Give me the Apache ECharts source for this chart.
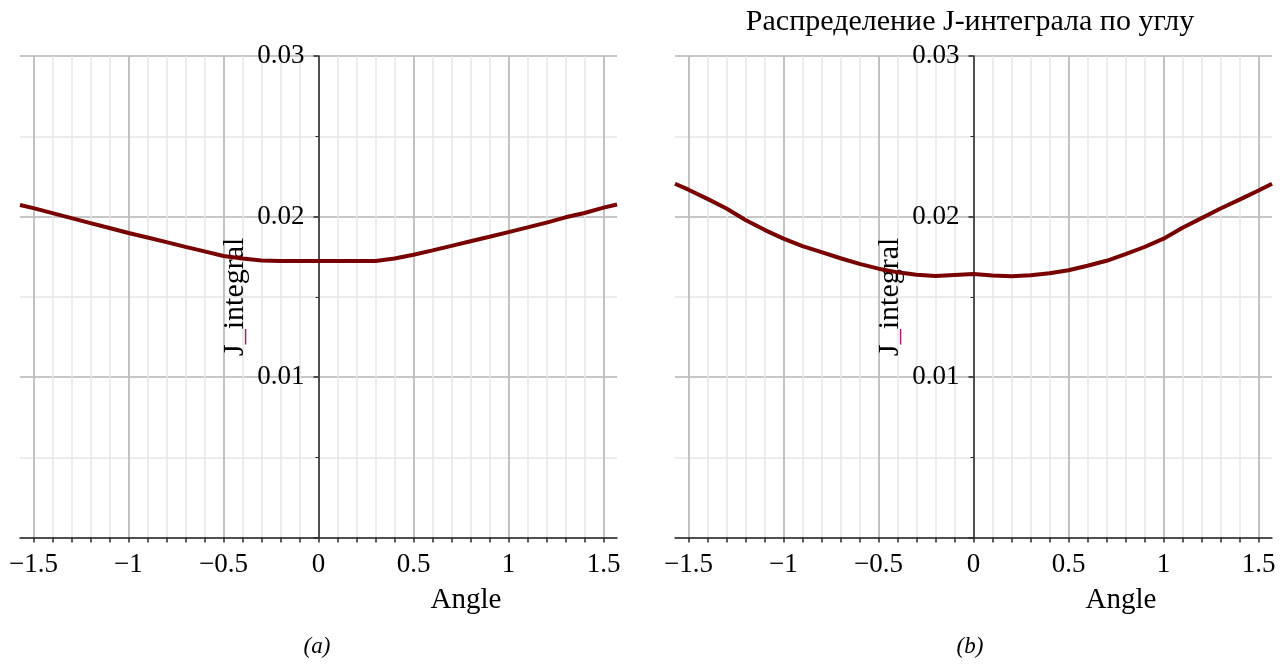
<!DOCTYPE html>
<html lang="ru">
<head>
    <meta charset="UTF-8" />
    <title>Распределение J-интеграла по углу</title>
    <script src="https://cdn.jsdelivr.net/npm/echarts@6.0.0/dist/echarts.min.js"></script>
    <style>
        body {
            margin: 0;
            background: #fff;
        }
        #chart {
            width: 1285px;
            height: 664px;
        }
    </style>
</head>
<body>
    <div id="chart"></div>

    <script>
        // angle in radians, -pi/2 .. pi/2
        const angles = [
            -1.5708, -1.5, -1.4, -1.3, -1.2, -1.1, -1.0, -0.9, -0.8, -0.7, -0.6,
            -0.5, -0.4, -0.3, -0.2, -0.1, 0, 0.1, 0.2, 0.3, 0.4, 0.5,
            0.6, 0.7, 0.8, 0.9, 1.0, 1.1, 1.2, 1.3, 1.4, 1.5, 1.5708
        ];
        // (a)
        const jIntegralA = [
            0.02072, 0.02052, 0.02021, 0.01990, 0.01959, 0.01928, 0.01897, 0.01869, 0.01840, 0.01811, 0.01783,
            0.01754, 0.01738, 0.01726, 0.01723, 0.01722, 0.01722, 0.01722, 0.01722, 0.01723, 0.01738, 0.01762,
            0.01789, 0.01817, 0.01846, 0.01874, 0.01903, 0.01932, 0.01962, 0.01995, 0.02022, 0.02055, 0.02075
        ];
        // (b)
        const jIntegralB = [
            0.02204, 0.02167, 0.02110, 0.02050, 0.01978, 0.01917, 0.01862, 0.01815, 0.01778, 0.01740, 0.01705,
            0.01675, 0.01652, 0.01637, 0.01630, 0.01636, 0.01642, 0.01632, 0.01628, 0.01634, 0.01647, 0.01665,
            0.01693, 0.01724, 0.01765, 0.01810, 0.01862, 0.01930, 0.01990, 0.02050, 0.02105, 0.02162, 0.02204
        ];

        const xRange = [-Math.PI / 2, Math.PI / 2];
        const xMajorTicks = [-1.5, -1, -0.5, 0, 0.5, 1, 1.5];
        const xMinorTicks = [
            -1.5, -1.4, -1.3, -1.2, -1.1, -1, -0.9, -0.8, -0.7, -0.6, -0.5, -0.4, -0.3, -0.2, -0.1,
            0, 0.1, 0.2, 0.3, 0.4, 0.5, 0.6, 0.7, 0.8, 0.9, 1, 1.1, 1.2, 1.3, 1.4, 1.5
        ];
        const yRange = [0, 0.03];
        const yStep = 0.01;

        const chartTitle = 'Распределение J-интеграла по углу';
        const xName = 'Angle';
        const yName = 'J{u|_}integral';
        const captions = ['(a)', '(b)'];

        const SERIF = '"Liberation Serif", "Times New Roman", serif';
        const AXIS_COLOR = '#2a2a2a';
        const CURVE_COLOR = '#780000';

        const PLOT_W = 597;
        const grids = [
            { left: 20, top: 56, width: PLOT_W, height: 481.5, outerBoundsMode: 'none', containLabel: false },
            { left: 675, top: 56, width: PLOT_W, height: 481.5, outerBoundsMode: 'none', containLabel: false }
        ];

        function fmtX(v) {
            if (v < 0) return '\u2212' + String(Math.abs(v));
            return String(v);
        }

        const xAxes = [];
        const yAxes = [];
        const series = [];
        [jIntegralA, jIntegralB].forEach((vals, i) => {
            // main axis: line, 0.1 ticks, labels on 0.5, light grid
            xAxes.push({
                gridIndex: i,
                type: 'value',
                min: xRange[0],
                max: xRange[1],
                axisLine: { onZero: true, lineStyle: { color: AXIS_COLOR, width: 1.5 } },
                axisTick: { customValues: xMinorTicks, length: 5, lineStyle: { color: AXIS_COLOR, width: 1.5 } },
                axisLabel: {
                    customValues: xMajorTicks,
                    formatter: fmtX,
                    margin: 14,
                    color: '#000',
                    fontFamily: SERIF,
                    fontSize: 27
                },
                splitLine: { show: true, lineStyle: { color: '#e6e6e6', width: 1.5 } }
            });
            // second axis just for the darker 0.5 grid lines
            xAxes.push({
                gridIndex: i,
                type: 'value',
                position: 'top',
                min: xRange[0],
                max: xRange[1],
                axisLine: { show: false },
                axisTick: { show: false, customValues: xMajorTicks },
                axisLabel: { show: false, customValues: xMajorTicks },
                splitLine: { show: true, lineStyle: { color: '#b4b4b4', width: 1.5 } }
            });
            // y axis sits at angle = 0: shift it into the middle of the grid
            yAxes.push({
                gridIndex: i,
                type: 'value',
                min: yRange[0],
                max: yRange[1],
                interval: yStep,
                offset: -PLOT_W / 2,
                name: yName,
                nameLocation: 'middle',
                nameRotate: 90,
                nameGap: 68,
                nameTextStyle: {
                    color: '#000',
                    fontFamily: SERIF,
                    fontSize: 30,
                    rich: {
                        u: { color: '#a0207a', fontFamily: SERIF, fontSize: 30 }
                    }
                },
                axisLine: { show: true, onZero: false, lineStyle: { color: AXIS_COLOR, width: 1.5 } },
                axisTick: { show: true, length: 5, lineStyle: { color: AXIS_COLOR, width: 1.5 } },
                minorTick: { show: true, splitNumber: 2, length: 3, lineStyle: { color: AXIS_COLOR } },
                axisLabel: {
                    formatter: v => (v === 0 ? '' : (+v.toFixed(2)).toString()),
                    margin: 14,
                    color: '#000',
                    fontFamily: SERIF,
                    fontSize: 27
                },
                splitLine: { show: true, lineStyle: { color: '#b4b4b4', width: 1.5 } },
                minorSplitLine: { show: true, lineStyle: { color: '#e6e6e6', width: 1.5 } }
            });
            series.push({
                type: 'line',
                xAxisIndex: i * 2,
                yAxisIndex: i,
                data: angles.map((a, k) => [a, vals[k]]),
                showSymbol: false,
                lineStyle: { color: CURVE_COLOR, width: 4 },
                z: 5
            });
        });

        const chart = echarts.init(document.getElementById('chart'));
        chart.setOption({
            animation: false,
            backgroundColor: '#fff',
            grid: grids,
            xAxis: xAxes,
            yAxis: yAxes,
            series: series,
            graphic: [
                { type: 'text', x: 970, y: 22, style: { text: chartTitle, font: '30px ' + SERIF, fill: '#000', align: 'center', verticalAlign: 'middle' } },
                { type: 'text', x: 466, y: 600, style: { text: xName, font: '29px ' + SERIF, fill: '#000', align: 'center', verticalAlign: 'middle' } },
                { type: 'text', x: 1121, y: 600, style: { text: xName, font: '29px ' + SERIF, fill: '#000', align: 'center', verticalAlign: 'middle' } },
                { type: 'text', x: 317, y: 647, style: { text: captions[0], font: 'italic 23px ' + SERIF, fill: '#000', align: 'center', verticalAlign: 'middle' } },
                { type: 'text', x: 970, y: 647, style: { text: captions[1], font: 'italic 23px ' + SERIF, fill: '#000', align: 'center', verticalAlign: 'middle' } }
            ]
        });
    </script>
</body>
</html>
